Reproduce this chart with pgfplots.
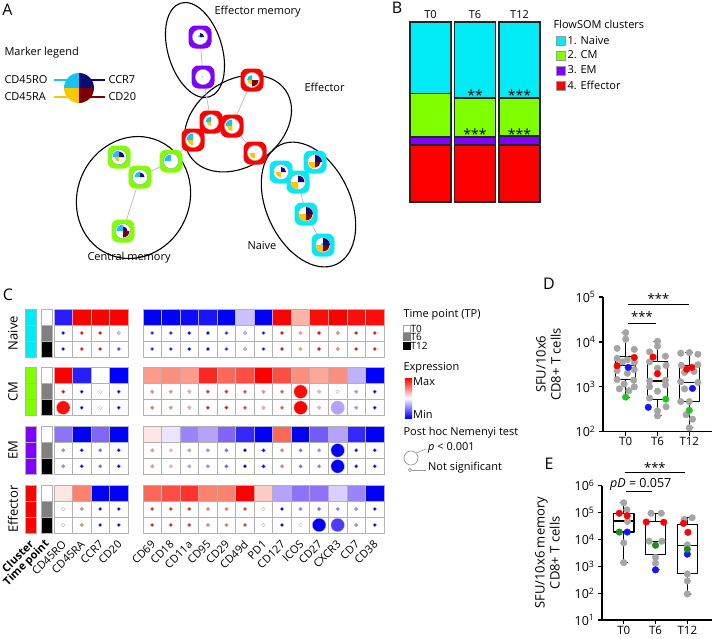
\documentclass[border=0pt]{standalone}
\usepackage{pgfplots}
\pgfplotsset{compat=1.18}
\usepackage{pgfplotstable}
\usepackage{fontspec}
\setmainfont{Open Sans}
\usetikzlibrary{shapes.geometric}

\definecolor{ncyan}{RGB}{0,235,245}
\definecolor{cmgreen}{RGB}{127,255,0}
\definecolor{empurple}{RGB}{128,0,255}
\definecolor{effred}{RGB}{255,0,0}
\definecolor{qcyan}{RGB}{25,195,240}
\definecolor{qnavy}{RGB}{10,10,120}
\definecolor{qyellow}{RGB}{250,200,0}
\definecolor{qdred}{RGB}{125,0,0}
\definecolor{gridgray}{RGB}{178,178,178}
\definecolor{dotgray}{RGB}{165,165,165}
\definecolor{dblue}{RGB}{20,20,255}
\definecolor{dgreen}{RGB}{30,200,30}
\definecolor{egreen}{RGB}{30,140,30}
\definecolor{salmon}{RGB}{250,130,110}
\definecolor{lav}{RGB}{130,100,250}

\pgfdeclareplotmark{qTL}{\pgfpathmoveto{\pgfpointorigin}\pgfpathlineto{\pgfpoint{-\pgfplotmarksize}{0pt}}\pgfpatharc{180}{90}{\pgfplotmarksize}\pgfpathclose\pgfusepathqfill}
\pgfdeclareplotmark{qTR}{\pgfpathmoveto{\pgfpointorigin}\pgfpathlineto{\pgfpoint{0pt}{\pgfplotmarksize}}\pgfpatharc{90}{0}{\pgfplotmarksize}\pgfpathclose\pgfusepathqfill}
\pgfdeclareplotmark{qBL}{\pgfpathmoveto{\pgfpointorigin}\pgfpathlineto{\pgfpoint{0pt}{-\pgfplotmarksize}}\pgfpatharc{270}{180}{\pgfplotmarksize}\pgfpathclose\pgfusepathqfill}
\pgfdeclareplotmark{qBR}{\pgfpathmoveto{\pgfpointorigin}\pgfpathlineto{\pgfpoint{\pgfplotmarksize}{0pt}}\pgfpatharc{0}{-90}{\pgfplotmarksize}\pgfpathclose\pgfusepathqfill}
\pgfdeclareplotmark{rsq}{%
 \pgfpathmoveto{\pgfpoint{-\pgfplotmarksize+7pt}{-\pgfplotmarksize}}%
 \pgfpathlineto{\pgfpoint{\pgfplotmarksize-7pt}{-\pgfplotmarksize}}%
 \pgfpatharc{-90}{0}{7pt}%
 \pgfpathlineto{\pgfpoint{\pgfplotmarksize}{\pgfplotmarksize-7pt}}%
 \pgfpatharc{0}{90}{7pt}%
 \pgfpathlineto{\pgfpoint{-\pgfplotmarksize+7pt}{\pgfplotmarksize}}%
 \pgfpatharc{90}{180}{7pt}%
 \pgfpathlineto{\pgfpoint{-\pgfplotmarksize}{-\pgfplotmarksize+7pt}}%
 \pgfpatharc{180}{270}{7pt}%
 \pgfpathclose\pgfusepathqfill}
\pgfdeclareplotmark{cell}{\pgfpathrectangle{\pgfpoint{-9.27pt}{-8pt}}{\pgfpoint{18.54pt}{16pt}}\pgfusepathqfillstroke}
\pgfdeclareplotmark{ccell}{\pgfpathrectangle{\pgfpoint{-5.5pt}{-8pt}}{\pgfpoint{11pt}{16pt}}\pgfusepathqfillstroke}

\newcommand\fa{\fontsize{11}{13}\selectfont}
\newcommand\fb{\fontsize{13}{15}\selectfont}
\newcommand\fl{\fontsize{16}{18}\selectfont}
\newcommand\colx{(\coordindex<4) ? (54+18.5*(\coordindex+0.5)) : (143+18.54*(\coordindex-3.5))}

\newcommand\heatrow[2]{%
\addplot[scatter, only marks, mark=cell, point meta=explicit,
  scatter/use mapped color={fill=mapped color, draw=gridgray, line width=0.8pt}]
  table[x expr={\colx}, y expr={#1}, meta=v, row sep=\\]{v\\#2};}
\newcommand\dotrow[2]{%
\addplot[only marks, mark=cell, mark options={fill=white, draw=gridgray, line width=0.8pt}]
  table[x expr={\colx}, y expr={#1}, row sep=\\]{v\\#2};
\addplot[scatter, only marks, mark=*, mark size=1.9, point meta=explicit,
  scatter/use mapped color={fill=mapped color, draw=black!30, line width=0.3pt}]
  table[x expr={\colx}, y expr={#1}, meta=v, row sep=\\]{v\\#2};}
\newcommand\bx[6]{\addplot[black, line width=1.2pt, line join=round]
  table[x expr=\thisrow{dx}+#1, y=y, row sep=\\]{dx y\\ -0.11 #2\\ 0.11 #2\\ 0 #2\\ 0 #3\\ 0.32 #3\\ 0.32 #5\\ -0.32 #5\\ -0.32 #3\\ 0 #3\\ -0.32 #3\\ -0.32 #4\\ 0.32 #4\\ 0.32 #5\\ 0 #5\\ 0 #6\\ -0.11 #6\\ 0.11 #6\\};}

\pgfplotstableread{
x y tl tr bl br
200 37 2 4 0.01 0.01
203 77 1.2 0.01 0.01 0.01
252 80 5 0.01 4.5 6.5
211 122 5.5 0.01 4 0.01
232 126 6.5 0.01 5 0.01
193 140 6.5 0.01 5.5 0.01
255 153 0.01 0.01 5.5 0.01
119 157 6.5 5.5 4.5 0.01
140 177 5.5 4.5 0.01 0.01
171 161 6.5 0.01 0.01 0.01
123 231 6.5 4.5 0.01 6.5
281 172 0.01 5 5.5 0.01
315 162 0.01 7 6.5 5.5
298 182 0.01 6.5 7 0.01
306 214 0.01 7 7 6.5
323 245 2 7 7 6.5
}\nodetab

\pgfplotstableread{
m y v
12 391.67 0.95
0 407.67 0.95
12 407.67 1
14 407.67 -0.3
14 450.33 -1
14 466.33 -1
13 525 -1
14 525 -0.7
}\bigdots

\pgfplotsset{bsty/.style={draw=black!85, line width=1.2pt,
  legend image code/.code={\draw[##1, draw=gray!80, line width=0.6pt] (0pt,-4.5pt) rectangle (9pt,4.5pt);}},
  boxax/.style={scale only axis, axis lines=left, axis line style={-, line width=1.2pt},
  xtick={0,1,2}, xticklabels={T0,T6,T12}, yminorticks=false, tick align=outside,
  major tick length=4pt, tick style={black, line width=1.2pt},
  yticklabel style={font=\fontsize{12.5}{14}\selectfont},
  xticklabel style={font=\fontsize{11.5}{12}\selectfont, inner sep=1.5pt},
  ylabel style={align=center, font=\fontsize{13}{15}\selectfont}, ylabel shift=8pt, clip=false}}

\begin{document}
\begin{tikzpicture}
\path[use as bounding box] (0pt,0pt) rectangle (713pt,-638pt);

% ================= canvas axis: panels A and C =================
\begin{scope}
\begin{axis}[at={(0pt,0pt)}, anchor=north west, width=713pt, height=638pt, scale only axis,
  xmin=0, xmax=713, ymin=0, ymax=638, y dir=reverse, hide axis, clip=false,
  unbounded coords=jump,
  colormap={bwr}{rgb255=(0,0,255) rgb255=(130,100,250) rgb255=(255,255,255) rgb255=(250,130,110) rgb255=(255,0,0)},
  point meta min=-1, point meta max=1]

% ---- panel A ----
\node[font=\fl] at (axis cs:7.5,10) {A};
\node[draw, ellipse, line width=1.1pt, minimum width=54pt, minimum height=98pt, inner sep=0pt, rotate=17] at (axis cs:195,50) {};
\node[draw, ellipse, line width=1.1pt, minimum width=116pt, minimum height=86pt, inner sep=0pt, rotate=35] at (axis cs:238,123.5) {};
\node[draw, ellipse, line width=1.1pt, minimum width=112pt, minimum height=124pt, inner sep=0pt, rotate=-25] at (axis cs:133.5,197.5) {};
\node[draw, ellipse, line width=1.1pt, minimum width=84pt, minimum height=132pt, inner sep=0pt, rotate=25] at (axis cs:308.5,204.5) {};

\addplot[gray!50, line width=0.8pt] coordinates {(200,37)(203,77)(211,122)(193,140)(171,161)(140,177)(119,157) (0,nan) (252,80)(232,126)(255,153) (0,nan) (140,177)(123,231) (0,nan) (281,172)(298,182)(315,162) (0,nan) (298,182)(306,214)(323,245)};

\addplot[only marks, mark=rsq, mark size=11.5, mark options={fill=empurple}] coordinates {(200,37)(203,77)};
\addplot[only marks, mark=rsq, mark size=11.5, mark options={fill=effred}] coordinates {(252,80)(211,122)(232,126)(193,140)(255,153)};
\addplot[only marks, mark=rsq, mark size=11.5, mark options={fill=cmgreen}] coordinates {(119,157)(140,177)(171,161)(123,231)};
\addplot[only marks, mark=rsq, mark size=11.5, mark options={fill=ncyan}] coordinates {(281,172)(315,162)(298,182)(306,214)(323,245)};
\addplot[only marks, mark=*, mark size=7.6, mark options={fill=white, draw=gray!70, line width=0.5pt}] table[x=x,y=y]{\nodetab};
\addplot[scatter, only marks, mark=qTL, scatter/use mapped color={fill=qcyan, draw=none}, visualization depends on={\thisrow{tl} \as \perms}, scatter/@pre marker code/.append style={/tikz/mark size=\perms}] table[x=x,y=y]{\nodetab};
\addplot[scatter, only marks, mark=qTR, scatter/use mapped color={fill=qnavy, draw=none}, visualization depends on={\thisrow{tr} \as \perms}, scatter/@pre marker code/.append style={/tikz/mark size=\perms}] table[x=x,y=y]{\nodetab};
\addplot[scatter, only marks, mark=qBL, scatter/use mapped color={fill=qyellow, draw=none}, visualization depends on={\thisrow{bl} \as \perms}, scatter/@pre marker code/.append style={/tikz/mark size=\perms}] table[x=x,y=y]{\nodetab};
\addplot[scatter, only marks, mark=qBR, scatter/use mapped color={fill=qdred, draw=none}, visualization depends on={\thisrow{br} \as \perms}, scatter/@pre marker code/.append style={/tikz/mark size=\perms}] table[x=x,y=y]{\nodetab};

\node[anchor=west, font=\fa] at (axis cs:211,12) {Effector memory};
\node[anchor=west, font=\fa] at (axis cs:301,87) {Effector};
\node[anchor=west, font=\fa] at (axis cs:84,258) {Central memory};
\node[anchor=west, font=\fa] at (axis cs:244,246) {Naive};

% marker legend
\node[anchor=west, font=\fa] at (axis cs:1,53) {Marker legend};
\node[anchor=west, font=\fa] at (axis cs:1,80) {CD45RO};
\node[anchor=west, font=\fa] at (axis cs:1,97) {CD45RA};
\node[anchor=west, font=\fa] at (axis cs:105,80) {CCR7};
\node[anchor=west, font=\fa] at (axis cs:105,97) {CD20};
\addplot[qcyan, line width=2.6pt] coordinates {(54,80)(79,80)};
\addplot[qyellow, line width=2.6pt] coordinates {(54,97)(79,97)};
\addplot[qnavy, line width=2.6pt] coordinates {(79,80)(105,80)};
\addplot[qdred, line width=2.6pt] coordinates {(79,97)(105,97)};
\addplot[only marks, mark=qTL, mark size=15, mark options={fill=qcyan}] coordinates {(79,88)};
\addplot[only marks, mark=qTR, mark size=15, mark options={fill=qnavy}] coordinates {(79,88)};
\addplot[only marks, mark=qBL, mark size=15, mark options={fill=qyellow}] coordinates {(79,88)};
\addplot[only marks, mark=qBR, mark size=15, mark options={fill=qdred}] coordinates {(79,88)};

% ---- panel C ----
\node[font=\fl] at (axis cs:8,295) {C};
\addplot[only marks, mark=ccell, mark options={fill=ncyan, draw=gridgray, line width=0.8pt}] coordinates {(30.5,317)(30.5,333)(30.5,349)};
\addplot[only marks, mark=ccell, mark options={fill=cmgreen, draw=gridgray, line width=0.8pt}] coordinates {(30.5,375.67)(30.5,391.67)(30.5,407.67)};
\addplot[only marks, mark=ccell, mark options={fill=empurple, draw=gridgray, line width=0.8pt}] coordinates {(30.5,434.33)(30.5,450.33)(30.5,466.33)};
\addplot[only marks, mark=ccell, mark options={fill=effred, draw=gridgray, line width=0.8pt}] coordinates {(30.5,493)(30.5,509)(30.5,525)};
\addplot[only marks, mark=ccell, mark options={fill=white, draw=gridgray, line width=0.8pt}] coordinates {(46.5,317)(46.5,375.67)(46.5,434.33)(46.5,493)};
\addplot[only marks, mark=ccell, mark options={fill=gray, draw=gridgray, line width=0.8pt}] coordinates {(46.5,333)(46.5,391.67)(46.5,450.33)(46.5,509)};
\addplot[only marks, mark=ccell, mark options={fill=black, draw=gridgray, line width=0.8pt}] coordinates {(46.5,349)(46.5,407.67)(46.5,466.33)(46.5,525)};

% Naive
\heatrow{317}{-0.85\\1\\1\\1\\-1\\-1\\-0.95\\-0.9\\-1\\-0.2\\-1\\1\\0.3\\0.95\\1\\0.95\\0.95\\}
\dotrow{333}{-1\\1\\1\\-0.2\\-0.85\\-0.85\\-1\\-1\\-0.85\\-0.25\\-1\\1\\0.4\\1\\0.5\\1\\1\\}
\dotrow{349}{-1\\1\\1\\-0.75\\-0.85\\-0.85\\-1\\-1\\-0.85\\-0.25\\-1\\1\\0.4\\1\\0.5\\1\\1\\}
% CM
\heatrow{375.67}{1\\-0.85\\0\\-1\\0.4\\0.45\\0.4\\0.85\\0.6\\0.7\\1\\0.7\\0.45\\0.35\\0.45\\-0.25\\-1\\}
\dotrow{391.67}{1\\-1\\0\\-1\\0.5\\0.45\\0.35\\0.9\\0.9\\0.8\\0.45\\0.7\\0.95\\0.3\\0\\-0.35\\-1\\}
\dotrow{407.67}{0.95\\-1\\0\\-1\\0.6\\0.45\\0.35\\1\\1\\0.8\\0.3\\0.7\\1\\0.3\\-0.3\\-0.35\\-1\\}
% EM
\heatrow{434.33}{-0.45\\-1\\-0.5\\-1\\0.1\\-0.08\\-0.4\\-0.3\\-0.5\\-0.8\\-1\\0.6\\-1\\-0.55\\-0.3\\-0.8\\-1\\}
\dotrow{450.33}{-0.4\\-1\\-0.5\\-1\\0.45\\0.25\\-0.3\\-0.4\\-0.5\\-1\\-1\\0.55\\-0.5\\-0.4\\-1\\-1\\-1\\}
\dotrow{466.33}{-0.4\\-1\\-0.5\\-1\\0.45\\0.25\\-0.3\\-0.4\\-0.55\\-1\\-1\\0.55\\-0.5\\-0.45\\-1\\-1\\-1\\}
% Effector
\heatrow{493}{0.1\\0.5\\-1\\-1\\0.6\\0.7\\0.8\\0.5\\0.5\\1\\0.2\\-0.3\\-0.45\\-0.45\\-0.15\\-0.4\\-1\\}
\dotrow{509}{0\\0.5\\-1\\-1\\0.9\\0.9\\0.9\\0.5\\0.6\\0.8\\0\\-1\\-0.45\\-0.5\\-0.45\\-0.4\\-1\\}
\dotrow{525}{0\\0.5\\-1\\-1\\0.95\\0.95\\0.9\\0.5\\0.6\\0.8\\0\\-1\\0\\-1\\-0.7\\-0.4\\-1\\}
\addplot[scatter, only marks, mark=*, mark size=6.8, point meta=explicit,
  scatter/use mapped color={fill=mapped color, draw=black!20, line width=0.3pt}]
  table[x expr={(\thisrow{m}<4) ? (54+18.5*(\thisrow{m}+0.5)) : (143+18.54*(\thisrow{m}-3.5))}, y=y, meta=v]{\bigdots};

\node[rotate=90, font=\fb] at (axis cs:13,333) {Naive};
\node[rotate=90, font=\fb] at (axis cs:13,391.67) {CM};
\node[rotate=90, font=\fb] at (axis cs:13,450.33) {EM};
\node[rotate=90, font=\fb] at (axis cs:13,509) {Effector};

\node[rotate=45, anchor=east, font=\fa\bfseries] at (axis cs:34,540) {Cluster};
\node[rotate=45, anchor=east, font=\fa\bfseries] at (axis cs:50,540) {Time point};
\node[rotate=45, anchor=east, font=\fa] at (axis cs:66.75,540) {CD45RO};
\node[rotate=45, anchor=east, font=\fa] at (axis cs:85.25,540) {CD45RA};
\node[rotate=45, anchor=east, font=\fa] at (axis cs:103.75,540) {CCR7};
\node[rotate=45, anchor=east, font=\fa] at (axis cs:122.25,540) {CD20};
\node[rotate=45, anchor=east, font=\fa] at (axis cs:155.8,540) {CD69};
\node[rotate=45, anchor=east, font=\fa] at (axis cs:174.3,540) {CD18};
\node[rotate=45, anchor=east, font=\fa] at (axis cs:192.9,540) {CD11a};
\node[rotate=45, anchor=east, font=\fa] at (axis cs:211.4,540) {CD95};
\node[rotate=45, anchor=east, font=\fa] at (axis cs:229.9,540) {CD29};
\node[rotate=45, anchor=east, font=\fa] at (axis cs:248.5,540) {CD49d};
\node[rotate=45, anchor=east, font=\fa] at (axis cs:267,540) {PD1};
\node[rotate=45, anchor=east, font=\fa] at (axis cs:285.6,540) {CD127};
\node[rotate=45, anchor=east, font=\fa] at (axis cs:304.1,540) {ICOS};
\node[rotate=45, anchor=east, font=\fa] at (axis cs:322.6,540) {CD27};
\node[rotate=45, anchor=east, font=\fa] at (axis cs:341.2,540) {CXCR3};
\node[rotate=45, anchor=east, font=\fa] at (axis cs:359.7,540) {CD7};
\node[rotate=45, anchor=east, font=\fa] at (axis cs:378.3,540) {CD38};

% legend of C
\node[anchor=west, font=\fa] at (axis cs:400,315) {Time point (TP)};
\addplot[only marks, mark=square*, mark size=3.6, mark options={fill=white, draw=gray!70, line width=0.5pt}] coordinates {(406.5,328.5)};
\addplot[only marks, mark=square*, mark size=3.6, mark options={fill=gray, draw=gray}] coordinates {(406.5,337)};
\addplot[only marks, mark=square*, mark size=3.6, mark options={fill=black, draw=black}] coordinates {(406.5,345.5)};
\node[anchor=west, font=\fontsize{10}{10}\selectfont, inner sep=1pt] at (axis cs:409.5,328.5) {T0};
\node[anchor=west, font=\fontsize{10}{10}\selectfont, inner sep=1pt] at (axis cs:409.5,337) {T6};
\node[anchor=west, font=\fontsize{10}{10}\selectfont, inner sep=1pt] at (axis cs:409.5,345.5) {T12};
\node[anchor=west, font=\fa] at (axis cs:400,368) {Expression};
\shade[top color=red, middle color=salmon, bottom color=white] (axis cs:405,378) rectangle (axis cs:412,398);
\shade[top color=white, middle color=lav, bottom color=blue] (axis cs:405,398) rectangle (axis cs:412,418);
\node[anchor=west, font=\fa, inner sep=1pt] at (axis cs:412,382) {Max};
\node[anchor=west, font=\fa, inner sep=1pt] at (axis cs:412,414) {Min};
\node[anchor=west, font=\fa] at (axis cs:400,433) {Post hoc Nemenyi test};
\addplot[gray!80, line width=0.6pt] coordinates {(416,453)(426,449)};
\addplot[gray!80, line width=0.6pt] coordinates {(412,470)(426,470)};
\addplot[only marks, mark=*, mark size=7, mark options={fill=white, draw=gray!80, line width=0.7pt}] coordinates {(411,458)};
\addplot[only marks, mark=*, mark size=1.6, mark options={fill=white, draw=gray!80, line width=0.6pt}] coordinates {(410,470)};
\node[anchor=west, font=\fa, inner sep=1pt] at (axis cs:427,448) {\textit{p} < 0.001};
\node[anchor=west, font=\fa, inner sep=1pt] at (axis cs:427,468) {Not significant};

\node[font=\fl] at (axis cs:397,8) {B};
\node[font=\fl] at (axis cs:549,284) {D};
\node[font=\fl] at (axis cs:549,464) {E};
\end{axis}
\end{scope}

% ================= panel B =================
\begin{scope}[shift={(408.25pt,-22pt)}]
\begin{axis}[at={(0pt,0pt)}, anchor=north west, width=133.5pt, height=180pt, scale only axis,
  ybar stacked, bar width=41pt, xmin=-0.5, xmax=2.5, ymin=0, ymax=100,
  hide y axis, axis x line*=top, x axis line style={draw=none},
  xtick={0,1,2}, xticklabels={T0,T6,T12}, major tick length=0pt,
  xticklabel style={font=\fa}, clip=false, reverse legend,
  legend style={at={(1.105,1.02)}, anchor=north west, draw=none, fill=none, font=\fa,
    row sep=1.5pt, inner sep=0pt, cells={anchor=west}}]
\addplot[bsty, fill=effred] coordinates {(0,31.7)(1,31.7)(2,31.7)};
\addlegendentry{4. Effector}
\addplot[bsty, fill=empurple] coordinates {(0,4.4)(1,4.4)(2,5.0)};
\addlegendentry{3. EM}
\addplot[bsty, fill=cmgreen] coordinates {(0,24.4)(1,21.7)(2,21.1)};
\addlegendentry{2. CM}
\addplot[bsty, fill=ncyan] coordinates {(0,39.5)(1,42.2)(2,42.2)};
\addlegendentry{1. Naive}
\addlegendimage{empty legend}
\addlegendentry{\hspace{-14pt}FlowSOM clusters}
\end{axis}
\end{scope}
\node[font=\fontsize{14}{14}\selectfont] at (475pt,-95pt) {**};
\node[font=\fontsize{14}{14}\selectfont] at (519.5pt,-95pt) {***};
\node[font=\fontsize{14}{14}\selectfont] at (475pt,-134pt) {***};
\node[font=\fontsize{14}{14}\selectfont] at (519.5pt,-134pt) {***};

% ================= panel D =================
\begin{scope}[shift={(603pt,-297pt)}]
\begin{axis}[ymode=log, boxax, at={(0pt,0pt)}, anchor=north west, width=109pt, height=134.7pt,
  ymin=100, ymax=100000, xmin=-0.714, xmax=2.714,
  ytick={100,1000,10000,100000},
  yticklabels={10\textsuperscript{2},10\textsuperscript{3},10\textsuperscript{4},10\textsuperscript{5}},
  ylabel={SFU/10x6\\CD8+ T cells}]
\bx{0}{575}{1480}{2950}{4700}{16100}
\bx{1}{225}{520}{1340}{3640}{10300}
\bx{2}{122}{470}{1250}{2960}{5740}
\addplot[only marks, mark=*, mark size=3.3pt, color=dotgray, mark options={draw=none}] coordinates {
(0,16100)(0,11500)(-0.27,7200)(0.27,6800)(-0.27,4300)(0.05,4000)(-0.1,3600)(0.27,3500)(0.27,2400)(-0.27,2300)(0.05,2000)(-0.27,1450)(0.25,1400)(-0.05,1150)(0.27,1000)(-0.2,900)(0.1,820)
(1,10300)(1,8000)(0.75,6000)(1.25,4800)(0.75,3600)(1.27,3000)(1,2600)(0.75,1350)(1.25,1400)(0.75,1000)(1.25,1100)(1,800)(0.75,560)(1.27,360)(1,290)(1,225)
(1.73,5600)(2,5800)(2.27,5300)(1.75,3000)(2.27,3100)(1.85,2100)(2.15,2200)(1.73,1300)(2.27,1250)(1.85,900)(1.73,470)(2,470)(1.9,240)(2.1,190)(2,122)};
\addplot[only marks, mark=*, mark size=3.3pt, color=red, mark options={draw=none}] coordinates {(0.27,4500)(-0.27,2950)(0.86,4600)(1,1950)(1.92,2450)(2.08,2700)};
\addplot[only marks, mark=*, mark size=3.3pt, color=dblue, mark options={draw=none}] coordinates {(0.08,2700)(0.71,350)(2.1,920)};
\addplot[only marks, mark=*, mark size=3.3pt, color=dgreen, mark options={draw=none}] coordinates {(0,590)(1.26,530)(2,300)};
\addplot[black, line width=1pt] coordinates {(0.07,69000)(1.99,69000)};
\addplot[black, line width=1pt] coordinates {(0.07,26300)(0.95,26300)};
\node[font=\fb] at (axis cs:1.03,92000) {***};
\node[font=\fb] at (axis cs:0.51,36000) {***};
\end{axis}
\end{scope}

% ================= panel E =================
\begin{scope}[shift={(602pt,-485.5pt)}]
\begin{axis}[ymode=log, boxax, at={(0pt,0pt)}, anchor=north west, width=110pt, height=134.5pt,
  ymin=10, ymax=1000000, xmin=-0.683, xmax=2.776,
  ytick={10,100,1000,10000,100000,1000000},
  yticklabels={10\textsuperscript{1},10\textsuperscript{2},10\textsuperscript{3},10\textsuperscript{4},10\textsuperscript{5},10\textsuperscript{6}},
  ylabel={SFU/10x6 memory\\CD8+ T cells}]
\bx{0}{1350}{18700}{48000}{93800}{229000}
\bx{1}{730}{2650}{8500}{45000}{92700}
\bx{2}{93}{550}{5800}{36000}{63000}
\addplot[only marks, mark=*, mark size=3.3pt, color=dotgray, mark options={draw=none}] coordinates {
(0,229000)(0.1,125000)(0.12,46000)(0,7400)(0,1350)
(0.86,92700)(1.18,92700)(0.8,8500)(1.2,8500)(1,2140)(1,1300)
(2.15,63000)(1.9,55000)(2,6200)(2,515)(2,283)(2,93)};
\addplot[only marks, mark=*, mark size=3.3pt, color=red, mark options={draw=none}] coordinates {(-0.14,93000)(0.11,75000)(0.71,44000)(1.26,43000)(1.88,39000)(2.02,18200)};
\addplot[only marks, mark=*, mark size=3.3pt, color=dblue, mark options={draw=none}] coordinates {(0.11,18600)(1,730)(2,2800)};
\addplot[only marks, mark=*, mark size=3.3pt, color=egreen, mark options={draw=none}] coordinates {(-0.14,18600)(1,6000)(2,4250)};
\addplot[black, line width=1pt] coordinates {(0.03,3100000)(1.92,3100000)};
\addplot[black, line width=1pt] coordinates {(0.08,590000)(0.9,590000)};
\node[font=\fb] at (axis cs:0.98,4600000) {***};
\node[anchor=west, font=\fontsize{12.5}{15}\selectfont, inner sep=0pt] at (axis cs:-0.43,1050000) {\textit{pD} = 0.057};
\end{axis}
\end{scope}
\end{tikzpicture}
\end{document}
